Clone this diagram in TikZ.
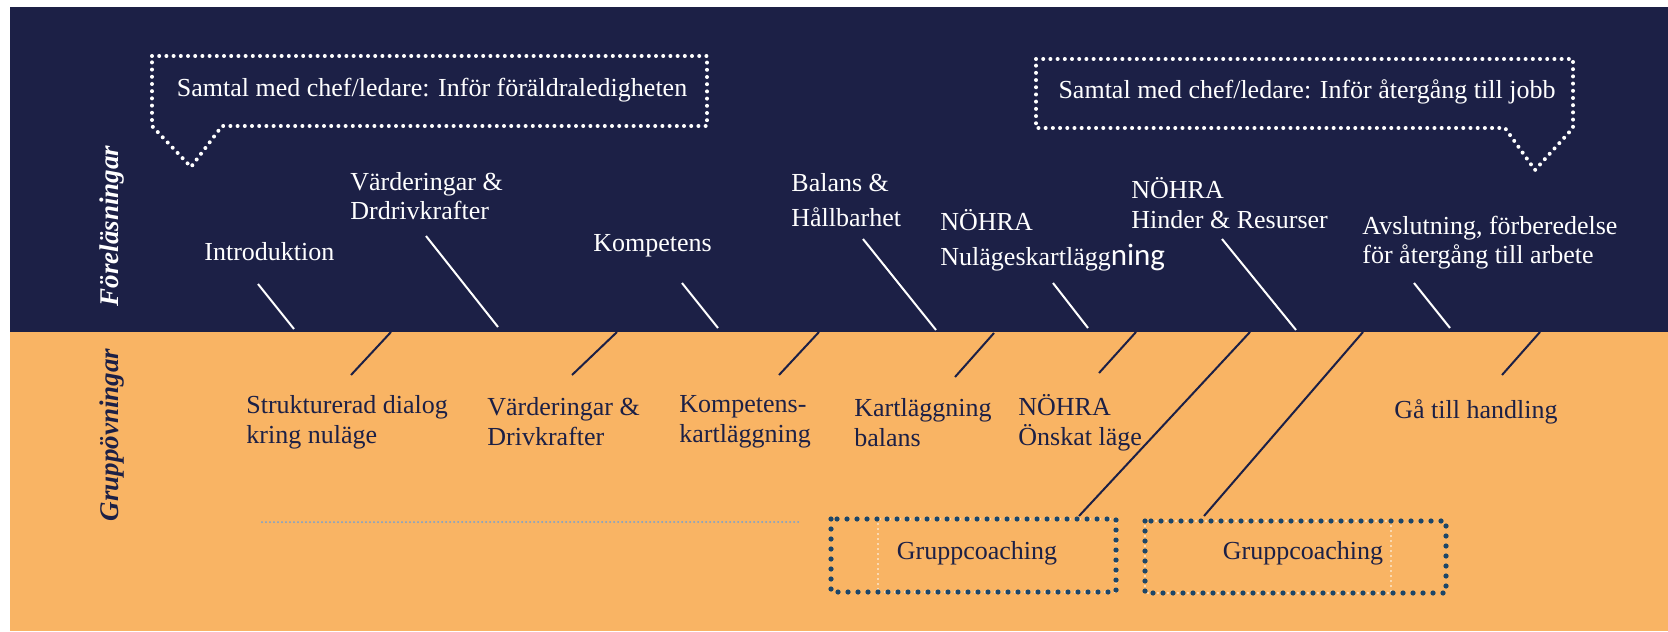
\documentclass[tikz,border=0pt]{standalone}
\usepackage{fontspec}
\setmainfont{Liberation Serif}
\newfontfamily\bigsans{Carlito}
\usepackage{xcolor}
\usetikzlibrary{positioning}
\definecolor{bandnavy}{RGB}{28,32,70}
\definecolor{bandorange}{RGB}{249,180,100}
\definecolor{coachframe}{RGB}{28,70,105}
\definecolor{guideblue}{RGB}{110,160,215}

\begin{document}
\begin{tikzpicture}[
  x=0.5pt,y=-0.5pt,
  font=\fontsize{13}{15}\selectfont,
  lbl/.style={anchor=west,align=left,inner sep=0pt},
  dark/.style={text=white},
  light/.style={text=bandnavy},
  rowtitle/.style={rotate=90,inner sep=0pt,font=\fontsize{13.5}{15}\selectfont\bfseries\itshape},
  tickw/.style={white,line width=1pt},
  tickn/.style={bandnavy,line width=1pt},
  talk/.style={draw=white,line width=2pt,line cap=round,dash pattern=on 0pt off 3.6pt},
  coach/.style={draw=coachframe,line width=2.6pt,line cap=round,dash pattern=on 0pt off 5pt},
  coachinner/.style={draw=white,line width=0.8pt,line cap=round,dash pattern=on 0pt off 2.5pt},
]
  \useasboundingbox (0,0) rectangle (1668,631);
  \fill[white] (0,0) rectangle (1668,631);
  \fill[bandnavy] (10,7) rectangle (1668,332);
  \fill[bandorange] (10,332) rectangle (1668,631);

  % radrubriker
  \node[rowtitle,text=white] (forel) at (112,226) {Föreläsningar};
  \node[rowtitle,text=bandnavy] (grupp) at (112,435) {Gruppövningar};

  % samtal med chef
  \node[dark,inner sep=0pt] (talk1) at (432,90) {Samtal med chef/ledare: Inför föräldraledigheten};
  \draw[talk] (152,56) -- (707,56) -- (707,126) -- (222,126) -- (191,167) -- (152,126) -- cycle;
  \node[dark,inner sep=0pt] (talk2) at (1307,92) {Samtal med chef/ledare: Inför återgång till jobb};
  \draw[talk] (1036,59) -- (1573,59) -- (1573,128) -- (1535,170) -- (1505,128) -- (1036,128) -- cycle;

  % föreläsningar
  \node[lbl,dark] (intro) at (204,252) {Introduktion};
  \node[lbl,dark,font=\fontsize{13}{14.5}\selectfont] (vard) at (350,196.5) {Värderingar \&\\Drdrivkrafter};
  \node[lbl,dark] (komp) at (593,246) {Kompetens};
  \node[lbl,dark,font=\fontsize{13}{17.5}\selectfont] (bal) at (791,200.5) {Balans \&\\Hållbarhet};
  \node[lbl,dark,font=\fontsize{13}{17.5}\selectfont] (nul) at (940,240.5) {NÖHRA\\Nulägeskartlägg{\bigsans\fontsize{15.5}{17.5}\selectfont ning}};
  \node[lbl,dark] (hind) at (1131,203) {NÖHRA\\Hinder \& Resurser};
  \node[lbl,dark,font=\fontsize{13}{14.5}\selectfont] (avsl) at (1362,242.5) {Avslutning, förberedelse\\för återgång till arbete};

  \draw[tickw] (258,284) -- (294,329);
  \draw[tickw] (426,236) -- (498,327);
  \draw[tickw] (682,283) -- (718,328);
  \draw[tickw] (863,239) -- (936,330);
  \draw[tickw] (1053,283) -- (1088,328);
  \draw[tickw] (1222,239) -- (1296,330);
  \draw[tickw] (1414,283) -- (1450,328);

  % gruppövningar
  \node[lbl,light] (strukt) at (246,422) {Strukturerad dialog\\kring nuläge};
  \node[lbl,light] (vard2) at (487,422) {Värderingar \&\\Drivkrafter};
  \node[lbl,light] (komp2) at (679,422) {Kompetens-\\kartläggning};
  \node[lbl,light] (kartl) at (854,422.5) {Kartläggning\\balans};
  \node[lbl,light] (onsk) at (1018,423) {NÖHRA\\Önskat läge};
  \node[lbl,light] (handl) at (1394,412) {Gå till handling};

  \draw[tickn] (391,332) -- (351,375);
  \draw[tickn] (617,332) -- (572,375);
  \draw[tickn] (819,332) -- (779,375);
  \draw[tickn] (994,333) -- (955,377);
  \draw[tickn] (1136,332) -- (1099,373);
  \draw[tickn] (1540,332) -- (1502,375);

  \draw[guideblue,line width=1pt,line cap=round,dash pattern=on 0pt off 2pt] (262,522) -- (799,522);

  % gruppcoaching
  \draw[coachinner] (878,519) rectangle (1116,592);
  \draw[coach] (831,519) rectangle (1116,592);
  \node[light,inner sep=0pt] (coach1) at (977,553) {Gruppcoaching};
  \draw[coachinner] (1145,521) rectangle (1391,593);
  \draw[coach] (1145,521) rectangle (1446,593);
  \node[light,inner sep=0pt] (coach2) at (1303,553) {Gruppcoaching};

  \draw[tickn] (1250,332) -- (1079,516);
  \draw[tickn] (1363,332) -- (1204,516);
\end{tikzpicture}
\end{document}
